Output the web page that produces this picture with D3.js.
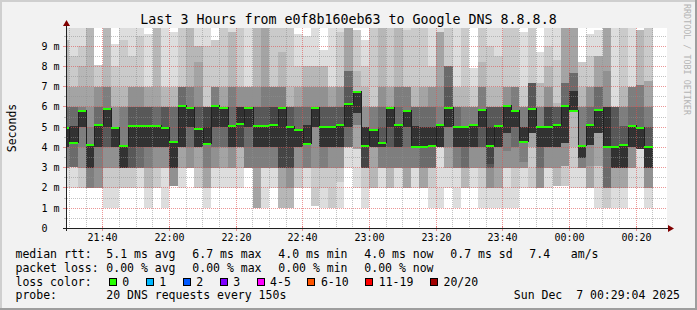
<!DOCTYPE html>
<html>
<head>
<meta charset="utf-8">
<script src="https://cdn.jsdelivr.net/npm/d3@7"></script>
<style>
  html, body { margin: 0; padding: 0; background: #f2f2f2; }
  svg { display: block; }
  text { font-family: "DejaVu Sans Mono", monospace; white-space: pre; }
</style>
</head>
<body>
<div id="graph"></div>
<script>
(function(){
	// 3 hours shown, one probe round of 20 DNS requests every 150 s
	var startTime = new Date(2025, 11, 6, 21, 29, 4),
	    endTime = new Date(2025, 11, 7, 0, 29, 4),
	    firstStepEnd = new Date(2025, 11, 6, 21, 30, 0),
	    stepSec = 150;

	// median rtt per step (ms)
	var medians = [4.97, 4.22, 5.8, 4.1, 5.13, 5.88, 4.95, 4.08, 5.05, 5.05,
		5.05, 5.05, 4.95, 4.25, 6.05, 5.95, 4.9, 4.18, 6.05, 5.95,
		5.05, 5.15, 5.95, 5.05, 5.05, 5.1, 5.95, 5.03, 4.88, 4.18,
		5.93, 5.03, 5.03, 5.13, 6.13, 6.72, 4.08, 4.88, 4.23, 5.93,
		5.13, 5.8, 4.0, 4.0, 4.08, 5.13, 5.93, 5.03, 5.03, 5.13,
		5.85, 4.08, 5.08, 6.05, 5.8, 4.25, 5.9, 5.03, 5.03, 5.13,
		6.05, 5.8, 4.08, 5.13, 5.85, 4.0, 4.0, 4.1, 5.05, 4.95, 4.0];

	// the 20 rtts of each step, as [ms, how many]
	var pingHist = [
		[[2.0,1],[3.0,5],[4.0,4],[4.97,3],[6.0,3],[7.0,1],[9.3,2],[10.5,1]],
		[[2.0,1],[3.05,6],[4.22,3],[5.05,3],[6.0,3],[7.0,2],[8.5,1],[10.5,1]],
		[[2.0,2],[3.0,3],[4.0,1],[5.0,4],[5.8,4],[6.0,2],[7.0,1],[8.0,1],[9.0,1],[10.5,1]],
		[[2.0,6],[3.0,4],[4.1,4],[5.0,1],[6.0,1],[7.0,1],[10.5,3]],
		[[2.0,5],[3.0,1],[4.0,4],[5.13,3],[6.0,2],[7.0,3],[8.05,2]],
		[[1.0,1],[2.0,1],[3.0,3],[4.0,3],[5.0,2],[5.88,4],[7.0,3],[10.5,3]],
		[[1.0,1],[2.0,1],[3.0,3],[4.0,5],[4.95,5],[6.0,2],[7.0,1],[8.0,1],[9.1,1]],
		[[2.0,2],[3.0,8],[4.08,4],[6.0,3],[7.0,1],[9.3,1],[10.5,1]],
		[[2.0,2],[3.0,6],[4.0,2],[5.05,2],[6.0,3],[7.0,3],[8.5,1],[10.5,1]],
		[[2.0,1],[3.0,6],[4.0,3],[5.05,2],[6.0,3],[7.0,3],[9.5,1],[10.5,1]],
		[[1.0,1],[2.0,2],[3.0,3],[4.0,4],[5.05,2],[6.0,4],[7.0,3],[9.6,1]],
		[[2.0,2],[3.0,3],[4.0,5],[5.05,3],[6.0,3],[7.0,1],[10.5,3]],
		[[1.0,1],[3.0,4],[4.0,5],[4.95,2],[6.0,5],[7.0,2],[10.5,1]],
		[[2.1,5],[3.0,5],[4.25,3],[6.0,4],[7.0,2],[9.7,1]],
		[[2.0,1],[3.0,3],[4.0,6],[6.05,3],[7.0,5],[10.5,2]],
		[[3.0,5],[4.0,2],[5.0,3],[5.95,4],[7.0,3],[10.5,3]],
		[[2.0,2],[3.0,2],[4.0,6],[4.9,2],[6.0,3],[7.0,1],[8.2,1],[9.0,2],[10.5,1]],
		[[1.0,1],[2.0,3],[3.0,2],[4.18,4],[5.0,1],[6.0,7],[9.0,1],[10.5,1]],
		[[2.0,1],[3.0,4],[4.0,2],[5.0,3],[6.05,4],[7.0,4],[9.3,2]],
		[[2.0,1],[3.0,3],[4.0,3],[5.0,3],[5.95,6],[7.0,2],[10.5,2]],
		[[2.0,1],[3.0,4],[4.0,5],[5.05,3],[6.0,1],[7.0,3],[9.7,2],[10.5,1]],
		[[2.0,1],[3.0,2],[4.0,6],[5.15,1],[6.0,5],[7.0,3],[10.5,2]],
		[[3.0,6],[4.0,1],[5.0,3],[5.95,5],[7.0,4],[10.5,1]],
		[[1.0,4],[3.0,2],[4.0,4],[5.05,2],[6.0,3],[7.0,2],[10.5,3]],
		[[1.0,1],[3.0,5],[4.0,4],[5.05,2],[6.0,2],[7.0,2],[10.5,4]],
		[[2.0,1],[3.0,5],[4.0,4],[5.1,1],[6.0,3],[7.0,4],[10.5,2]],
		[[1.0,3],[2.0,1],[3.0,5],[4.0,1],[5.95,4],[7.0,3],[8.7,1],[10.5,2]],
		[[1.0,3],[2.0,2],[3.0,4],[4.0,1],[5.03,2],[6.0,5],[7.0,1],[10.5,2]],
		[[2.0,2],[3.0,3],[4.0,5],[4.88,3],[6.0,3],[7.0,2],[8.0,1],[9.6,1]],
		[[2.0,1],[3.0,5],[4.18,4],[5.13,3],[6.0,2],[7.0,2],[8.0,2],[9.5,1]],
		[[1.1,2],[3.0,3],[5.0,5],[5.93,5],[7.0,2],[8.0,2],[10.5,1]],
		[[1.0,1],[2.0,1],[3.0,4],[4.0,4],[5.03,2],[6.0,3],[7.0,2],[8.0,2],[8.8,1]],
		[[1.0,2],[3.0,3],[4.0,5],[5.03,2],[6.0,4],[7.0,3],[10.5,1]],
		[[1.0,1],[2.3,1],[3.0,3],[4.0,5],[5.13,2],[6.0,3],[7.0,3],[9.7,1],[10.5,1]],
		[[3.0,1],[4.0,6],[5.0,3],[6.13,2],[7.0,1],[7.8,3],[10.5,4]],
		[[2.0,1],[3.9,3],[5.13,2],[5.72,4],[6.72,7],[7.8,1],[9.8,2]],
		[[1.0,1],[2.0,1],[3.0,7],[4.08,1],[5.0,5],[6.0,2],[7.0,1],[8.0,1],[9.3,1]],
		[[2.0,3],[3.0,1],[4.0,6],[4.88,4],[6.0,4],[10.5,2]],
		[[2.0,1],[3.0,5],[4.0,4],[4.23,2],[5.0,1],[6.0,2],[7.0,2],[10.5,3]],
		[[2.0,3],[3.0,3],[4.0,2],[5.0,2],[5.93,6],[7.0,2],[10.5,2]],
		[[2.0,1],[3.0,5],[4.0,4],[5.13,3],[6.0,1],[7.0,3],[10.5,3]],
		[[2.0,4],[3.0,2],[4.0,1],[5.0,3],[5.8,4],[7.0,4],[9.8,1],[10.5,1]],
		[[2.0,1],[3.0,5],[4.0,4],[5.05,3],[6.0,4],[7.0,1],[10.5,2]],
		[[2.0,4],[3.0,3],[4.0,3],[5.0,3],[6.0,3],[7.0,2],[10.5,2]],
		[[1.0,1],[2.0,1],[3.0,5],[4.08,3],[5.0,3],[6.0,2],[7.0,3],[8.0,1],[10.5,1]],
		[[1.0,1],[4.0,9],[5.13,4],[6.0,1],[7.0,1],[9.7,3],[10.5,1]],
		[[2.0,1],[3.0,3],[4.0,2],[5.0,4],[5.93,2],[7.0,1],[8.0,5],[10.5,2]],
		[[1.0,1],[3.0,5],[4.0,4],[5.03,3],[6.0,4],[7.0,2],[10.5,1]],
		[[2.0,3],[3.0,4],[4.0,3],[5.03,4],[6.0,3],[7.0,1],[10.5,2]],
		[[2.0,1],[3.0,4],[4.0,5],[5.13,4],[6.0,4],[7.0,1],[7.9,1]],
		[[1.0,1],[2.0,1],[3.0,3],[4.0,3],[5.0,2],[5.85,4],[7.0,3],[8.2,1],[10.5,2]],
		[[1.0,1],[2.0,4],[3.0,3],[3.2,1],[4.08,1],[5.0,2],[6.0,5],[7.0,1],[9.0,1],[10.5,1]],
		[[1.0,1],[2.0,3],[3.0,1],[4.0,5],[5.08,2],[6.0,5],[7.0,1],[8.5,1],[10.5,1]],
		[[1.0,1],[3.0,4],[3.8,1],[4.7,4],[6.05,5],[7.0,3],[10.5,2]],
		[[1.0,1],[2.0,1],[3.0,3],[4.0,2],[5.0,3],[5.8,4],[7.0,4],[10.5,2]],
		[[2.0,1],[3.0,4],[3.3,1],[4.25,4],[5.0,4],[6.0,4],[7.0,1],[9.7,1]],
		[[2.0,2],[4.0,2],[4.7,6],[5.9,2],[7.2,6],[10.5,2]],
		[[2.0,5],[3.0,2],[4.0,3],[5.03,4],[6.0,3],[7.2,2],[8.7,1]],
		[[2.0,1],[3.0,4],[4.0,5],[5.03,1],[6.0,4],[7.0,2],[8.0,1],[9.0,1],[10.5,1]],
		[[2.1,3],[3.0,2],[4.0,5],[5.13,2],[6.0,5],[6.2,1],[8.3,1],[10.5,1]],
		[[2.1,2],[3.1,3],[4.2,5],[6.05,3],[7.2,3],[10.5,4]],
		[[2.0,1],[3.0,1],[4.0,1],[5.8,7],[6.8,3],[7.7,3],[10.5,4]],
		[[2.0,1],[3.0,5],[3.5,4],[4.08,4],[6.0,3],[7.0,1],[8.2,2]],
		[[2.0,4],[3.1,1],[4.1,5],[5.13,3],[6.0,2],[7.0,3],[8.5,1],[9.6,1]],
		[[1.0,1],[2.0,1],[3.1,2],[4.7,6],[5.85,3],[7.0,3],[8.5,3],[9.8,1]],
		[[1.0,2],[2.0,5],[4.0,3],[6.0,5],[7.8,1],[10.5,4]],
		[[1.0,1],[2.0,3],[3.0,6],[4.0,2],[6.0,7],[10.5,1]],
		[[1.0,1],[2.0,3],[3.0,6],[4.1,2],[5.05,2],[6.0,3],[7.0,1],[10.5,2]],
		[[2.0,1],[3.0,4],[4.0,5],[5.05,3],[6.0,1],[7.0,5],[10.5,1]],
		[[2.0,1],[3.9,9],[4.93,3],[6.0,1],[7.1,3],[9.8,3]],
		[[1.0,1],[2.0,4],[3.0,5],[4.0,2],[5.0,2],[6.0,2],[7.3,2],[10.5,2]]
	];

	var title = "Last 3 Hours from e0f8b160eb63 to Google DNS 8.8.8.8";
	var rttStats = ["5.1 ms avg", "6.7 ms max", "4.0 ms min", "4.0 ms now", "0.7 ms sd", "7.4   am/s"];
	var lossStats = ["0.00 % avg", "0.00 % max", "0.00 % min", "0.00 % now"];
	var lossLabels = ["0", "1", "2", "3", "4-5", "6-10", "11-19", "20/20"];
	var lossColors = ["#26ff00", "#00b8ff", "#0059ff", "#7e00ff", "#ff00ff", "#ff5500", "#ff0000", "#a10000"];
	var probeText = "20 DNS requests every 150s";
	var stamp = "Sun Dec  7 00:29:04 2025";

	var width = 697, height = 310;
	var statX = [106.3, 192.3, 278.3, 364.3, 450.3, 529.3];
	var gridCol = "rgba(143,143,143,0.55)", mgridCol = "rgba(222,80,80,0.6)";

	var svg = d3.select("#graph").append("svg")
		.attr("width", width).attr("height", height);

	svg.append("rect").attr("width", width).attr("height", height).attr("fill", "#f2f2f2");
	// 3d frame
	svg.append("path").attr("d", "M0,1H697M1,0V310").attr("stroke", "#cfcfcf").attr("stroke-width", 2);
	svg.append("path").attr("d", "M0,309H697M696,0V310").attr("stroke", "#9e9e9e").attr("stroke-width", 2);

	var x = d3.scaleTime().domain([startTime, endTime]).range([66.3, 666.3]);
	var y = d3.scaleLinear().domain([0, 9.9]).range([228.4, 28]).clamp(true);

	svg.append("rect").attr("x", 67).attr("y", 28).attr("width", 600).attr("height", 200).attr("fill", "#fff");

	// smoke, smokeping style: band i from ping i to ping 21-i, darker inside
	var shades = d3.range(1, 11).map(function(i) {
		var c = Math.floor(190 / 10 * (10 - i)) + 50;
		return d3.rgb(c, c, c).formatHex();
	});

	var cols = medians.map(function(m, i) {
		var end = d3.timeSecond.offset(firstStepEnd, i * stepSec);
		var start = d3.timeSecond.offset(end, -stepSec);
		var pings = [];
		pingHist[i].forEach(function(h) {
			for (var k = 0; k < h[1]; k++) pings.push(h[0]);
		});
		if (pings.length != 20) console.warn("step " + i + " has " + pings.length);
		return {x0: Math.max(67, Math.round(x(start))), x1: Math.round(x(end)), median: m, pings: pings};
	});

	var smoke = svg.append("g").attr("shape-rendering", "crispEdges");
	cols.forEach(function(c) {
		for (var i = 1; i <= 10; i++) {
			var lo = c.pings[i - 1], hi = c.pings[20 - i];
			var yt = Math.round(y(hi)), yb = Math.round(y(lo));
			if (yb > yt) {
				smoke.append("rect")
					.attr("x", c.x0).attr("y", yt)
					.attr("width", c.x1 - c.x0).attr("height", yb - yt)
					.attr("fill", shades[i - 1]);
			}
		}
	});

	// grid
	var grid = svg.append("g").attr("shape-rendering", "crispEdges").attr("stroke-dasharray", "1,1");
	x.ticks(d3.timeMinute.every(5)).forEach(function(t) {
		var major = t.getMinutes() % 20 == 0;
		var px = Math.floor(x(t)) + 0.5;
		grid.append("line").attr("x1", px).attr("x2", px).attr("y1", 28).attr("y2", 228)
			.attr("stroke", major ? mgridCol : gridCol);
	});
	d3.range(0.5, 9.9, 0.5).forEach(function(v) {
		var major = v % 1 == 0;
		var py = Math.floor(y(v)) + 0.5;
		grid.append("line").attr("x1", 67).attr("x2", 667).attr("y1", py).attr("y2", py)
			.attr("stroke", major ? mgridCol : gridCol);
	});

	// median: thin dark step line plus 2px loss colour bar
	var pts = cols.map(function(c) { return [c.x0, Math.round(y(c.median)) - 0.5]; });
	var last = cols[cols.length - 1];
	pts.push([last.x1, Math.round(y(last.median)) - 0.5]);
	svg.append("path")
		.attr("d", d3.line().curve(d3.curveStepAfter)(pts))
		.attr("fill", "none").attr("stroke", "#202020").attr("stroke-width", 1)
		.attr("shape-rendering", "crispEdges");
	svg.append("g").attr("shape-rendering", "crispEdges")
		.selectAll("rect").data(cols).enter().append("rect")
		.attr("x", function(d) { return d.x0; })
		.attr("y", function(d) { return Math.round(y(d.median)) - 1; })
		.attr("width", function(d) { return d.x1 - d.x0; })
		.attr("height", 2)
		.attr("fill", lossColors[0]);

	// axes
	var axis = svg.append("g").attr("shape-rendering", "crispEdges");
	x.ticks(d3.timeMinute.every(20)).forEach(function(t) {
		var px = Math.floor(x(t)) + 0.5;
		axis.append("line").attr("x1", px).attr("x2", px).attr("y1", 226).attr("y2", 231).attr("stroke", mgridCol);
		svg.append("text").attr("x", px).attr("y", 241).attr("text-anchor", "middle")
			.attr("font-size", "10px").text(d3.timeFormat("%H:%M")(t));
	});
	d3.range(0.5, 9.9, 0.5).forEach(function(v) {
		var major = v % 1 == 0;
		var py = Math.floor(y(v)) + 0.5;
		axis.append("line").attr("x1", major ? 63 : 64).attr("x2", 66).attr("y1", py).attr("y2", py)
			.attr("stroke", major ? mgridCol : gridCol);
	});
	d3.range(0, 10).forEach(function(v) {
		svg.append("text").attr("x", 41.5).attr("y", Math.floor(y(v)) + 4)
			.attr("font-size", "10px").text(v == 0 ? "0" : v + " m");
	});
	axis.append("line").attr("x1", 63).attr("x2", 670).attr("y1", 228.5).attr("y2", 228.5).attr("stroke", "#202020");
	axis.append("line").attr("x1", 66.5).attr("x2", 66.5).attr("y1", 231).attr("y2", 24).attr("stroke", "#202020");
	svg.append("path").attr("d", "M66.5,20L63,26L70,26Z").attr("fill", "#800000");
	svg.append("path").attr("d", "M674,228.5L668,225L668,232Z").attr("fill", "#800000");

	// texts
	svg.append("text").attr("x", 348.5).attr("y", 24).attr("text-anchor", "middle")
		.attr("font-size", "13.3px").text(title);
	svg.append("text").attr("transform", "translate(15.5,128) rotate(-90)").attr("text-anchor", "middle")
		.attr("font-size", "11.5px").text("Seconds");
	svg.append("text").attr("transform", "translate(684,4) rotate(90)")
		.attr("font-size", "8.4px").attr("fill", "#b4b4b4").text("RRDTOOL / TOBI OETIKER");

	var leg = svg.append("g").attr("font-size", "11.5px");
	var rows = [258.3, 272, 285.7, 299.4];
	leg.append("text").attr("x", 15.5).attr("y", rows[0]).text("median rtt:");
	rttStats.forEach(function(s, i) { leg.append("text").attr("x", statX[i]).attr("y", rows[0]).text(s); });
	leg.append("text").attr("x", 15.5).attr("y", rows[1]).text("packet loss:");
	lossStats.forEach(function(s, i) { leg.append("text").attr("x", statX[i]).attr("y", rows[1]).text(s); });
	leg.append("text").attr("x", 15.5).attr("y", rows[2]).text("loss color:");
	var bx = 108.7;
	lossLabels.forEach(function(l, i) {
		leg.append("rect").attr("x", Math.round(bx) + 0.5).attr("y", 278.5).attr("width", 7).attr("height", 7)
			.attr("fill", lossColors[i]).attr("stroke", "#000");
		leg.append("text").attr("x", bx + 13.6).attr("y", rows[2]).text(l);
		bx += 30 + 6.95 * l.length;
	});
	leg.append("text").attr("x", 15.5).attr("y", rows[3]).text("probe:");
	leg.append("text").attr("x", statX[0]).attr("y", rows[3]).text(probeText);
	leg.append("text").attr("x", 680).attr("y", rows[3]).attr("text-anchor", "end").text(stamp);
})();
</script>
</body>
</html>
